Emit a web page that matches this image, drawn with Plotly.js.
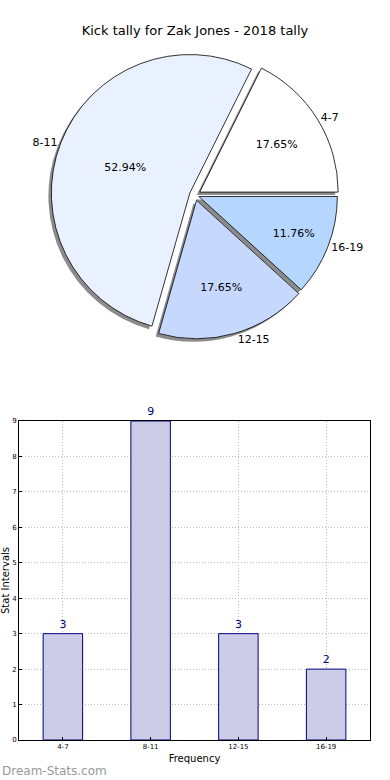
<!DOCTYPE html>
<html>
<head>
<meta charset="utf-8">
<script src="https://cdn.plot.ly/plotly-3.0.1.min.js"></script>
<style>html,body{margin:0;padding:0;background:#fff;}#chart{width:390px;height:780px;}</style>
</head>
<body>
<div id="chart"></div>
<script>
const categories = ['4-7', '8-11', '12-15', '16-19'];
const counts = [3, 9, 3, 2];
const sliceColors = ['#ffffff', '#eaf1fe', '#c6d8fe', '#b5d6fe'];
const pulls = [0.04, 0.04, 0.04, 0.03];
const titleText = 'Kick tally for Zak Jones - 2018 tally';

const W = 390, H = 780;
const px = v => v / W;
const py = v => 1 - v / H;
const cx = 195, cy = 195, half = 144;
const pieDomain = {x: [px(cx - half), px(cx + half)], y: [py(cy + half), py(cy - half)]};
const shadowDomain = {x: [px(cx - half - 3), px(cx + half - 3)], y: [py(cy + half + 3), py(cy - half + 3)]};
const startRotation = 26.47;

const font = 'DejaVu Sans, sans-serif';

const shadow = {
  type: 'pie', values: counts, labels: categories, sort: false,
  direction: 'counterclockwise', rotation: startRotation, pull: pulls,
  domain: shadowDomain, marker: {colors: counts.map(() => '#8c8c8c'), line: {width: 0}},
  textinfo: 'none', hoverinfo: 'skip', showlegend: false
};
const pie = {
  type: 'pie', values: counts, labels: categories, sort: false,
  direction: 'counterclockwise', rotation: startRotation, pull: pulls,
  domain: pieDomain, marker: {colors: sliceColors, line: {color: '#000', width: 0.8}},
  texttemplate: '%{percent:.2%}', textposition: 'inside', insidetextorientation: 'horizontal',
  textfont: {family: font, size: 11, color: '#000'}, showlegend: false
};
const labelsPie = {
  type: 'pie', values: counts, labels: categories, sort: false,
  direction: 'counterclockwise', rotation: startRotation, pull: pulls,
  domain: pieDomain, marker: {colors: counts.map(() => 'rgba(0,0,0,0)'), line: {width: 0}},
  textinfo: 'label', textposition: 'outside',
  textfont: {family: font, size: 11, color: '#000'}, showlegend: false, hoverinfo: 'skip'
};
const bars = {
  type: 'bar', x: categories, y: counts, width: 0.45,
  marker: {color: '#cccce6', line: {color: '#000080', width: 1}},
  text: counts.map(String), textposition: 'outside', cliponaxis: false,
  textfont: {family: font, size: 11, color: '#000080'},
  xaxis: 'x', yaxis: 'y', showlegend: false
};

const layout = {
  width: W, height: H,
  margin: {l: 0, r: 0, t: 0, b: 0},
  paper_bgcolor: '#fff', plot_bgcolor: '#fff',
  font: {family: font, color: '#000'},
  title: {text: titleText, font: {family: font, size: 13, color: '#000'}, x: 0.5, xanchor: 'center', y: py(30), yanchor: 'middle'},
  xaxis: {
    domain: [px(19), px(370)], range: [-0.5, 3.5], type: 'category',
    showline: true, linecolor: '#000', linewidth: 1, mirror: true,
    ticks: 'inside', ticklen: 3, tickcolor: '#000',
    showgrid: true, gridcolor: '#bbbbbb', griddash: '1px,2px', gridwidth: 1,
    tickfont: {family: font, size: 7, color: '#000'},
    title: {text: 'Frequency', font: {family: font, size: 10, color: '#000'}, standoff: 4},
    zeroline: false, layer: 'above traces'
  },
  yaxis: {
    domain: [py(740), py(421)], range: [0, 9], dtick: 1,
    showline: true, linecolor: '#000', linewidth: 1, mirror: true,
    ticks: 'inside', ticklen: 3, tickcolor: '#000',
    showgrid: true, gridcolor: '#bbbbbb', griddash: '1px,2px', gridwidth: 1,
    tickfont: {family: font, size: 7, color: '#000'},
    title: {text: 'Stat Intervals', font: {family: font, size: 10, color: '#000'}, standoff: 2},
    zeroline: false, layer: 'above traces'
  },
  annotations: [{
    text: 'Dream-Stats.com', xref: 'paper', yref: 'paper', x: 0, y: py(771),
    xanchor: 'left', yanchor: 'middle', showarrow: false,
    font: {family: font, size: 12, color: '#999999'}
  }]
};

Plotly.newPlot('chart', [shadow, pie, labelsPie, bars], layout, {displayModeBar: false, staticPlot: true});
</script>
</body>
</html>
